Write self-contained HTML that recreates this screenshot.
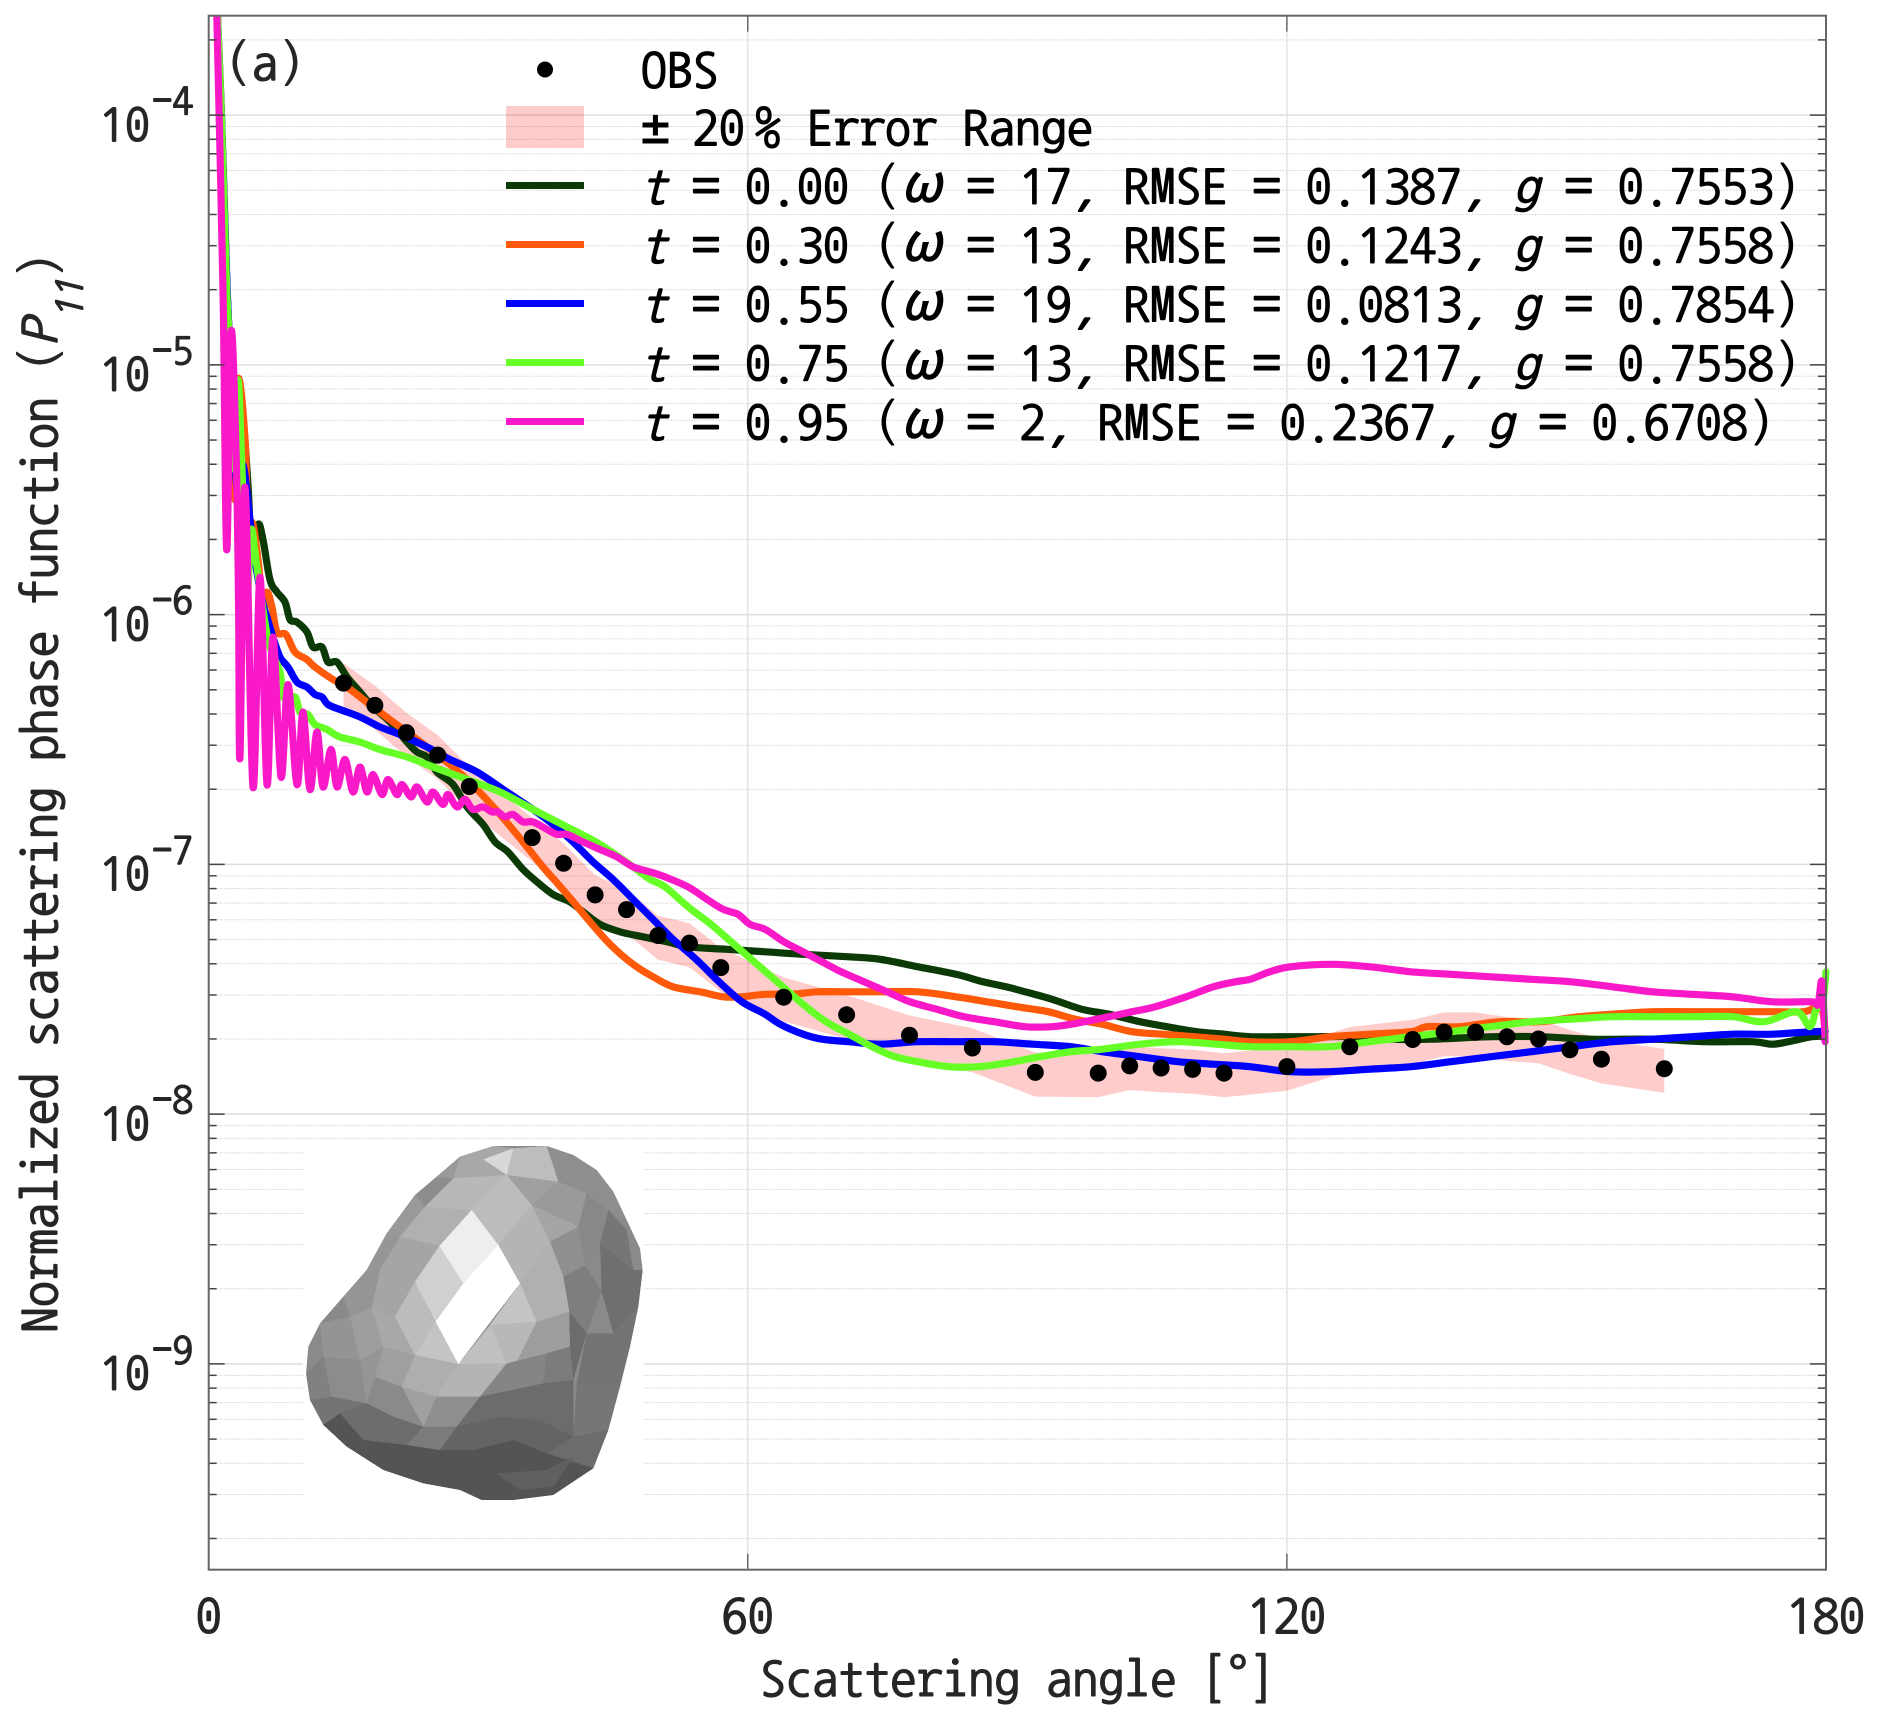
<!DOCTYPE html>
<html lang="en">
<head>
<meta charset="utf-8">
<title>Normalized scattering phase function</title>
<style>
html,body{margin:0;padding:0;background:#fff;}
svg{display:block;}
text{font-family:"NanumGothicCoding","Noto Sans Mono CJK KR","Noto Sans Mono CJK SC","DejaVu Sans Mono","Liberation Mono",monospace;fill:#262626;stroke:#262626;stroke-width:1.1;}
.it{font-style:italic;}
.lg{font-size:52px;fill:#000;stroke:#000;}
.pm{font-family:"DejaVu Sans Mono",monospace;font-size:48px;}
.nw{font-family:"Noto Sans Mono CJK KR","Noto Sans Mono CJK SC","DejaVu Sans Mono",monospace;}
</style>
</head>
<body>
<svg id="chart" xmlns="http://www.w3.org/2000/svg" width="1880" height="1722" viewBox="0 0 1880 1722">
<defs>
<clipPath id="plot-clip"><rect x="208.7" y="16" width="1621" height="1553"></rect></clipPath>
<clipPath id="asteroid-clip"><polygon points="640,78 800,78 880,105 950,150 1000,215 1040,300 1080,385 1088,450 1075,560 1050,680 1020,800 985,930 940,1045 880,1085 820,1125 700,1140 605,1140 540,1110 430,1090 310,1050 200,980 130,915 90,840 78,760 85,680 120,610 190,530 260,450 320,340 405,225 470,170 540,110"></polygon></clipPath>
</defs>
<rect width="1880" height="1722" fill="#fff"></rect>
<g id="grid-layer"></g>
<g id="band-layer" clip-path="url(#plot-clip)"></g>
<g id="curve-layer" clip-path="url(#plot-clip)"></g>
<g id="obs-layer"></g>

<g>
<rect x="303" y="1145" width="341" height="358" fill="#fff"></rect>
<g transform="translate(280,1120) scale(0.33333)">
<g clip-path="url(#asteroid-clip)">
<g shape-rendering="crispEdges">
<rect x="60" y="60" width="1050" height="1100" fill="#8a8a8a"></rect>
<polygon fill="#a8a8a8" points="640,78 700,85 610,118 540,110"></polygon>
<polygon fill="#d8d8d8" points="610,118 700,85 680,165"></polygon>
<polygon fill="#bdbdbd" points="700,85 800,78 835,185 680,165"></polygon>
<polygon fill="#a8a8a8" points="540,110 610,118 680,165 520,175"></polygon>
<polygon fill="#b8b8b8" points="520,175 680,165 575,270 435,260"></polygon>
<polygon fill="#bcbcbc" points="680,165 755,255 655,375 575,270"></polygon>
<polygon fill="#b4b4b4" points="655,375 755,255 810,365 720,490"></polygon>
<polygon fill="#a0a0a0" points="680,165 835,185 755,255"></polygon>
<polygon fill="#9a9a9a" points="835,185 920,220 895,320 755,255"></polygon>
<polygon fill="#a5a5a5" points="755,255 895,320 810,365"></polygon>
<polygon fill="#8f8f8f" points="810,365 895,320 915,435 850,470"></polygon>
<polygon fill="#b0b0b0" points="720,490 810,365 850,470 868,575 770,605"></polygon>
<polygon fill="#c4c4c4" points="720,490 770,605 630,615"></polygon>
<polygon fill="#b8b8b8" points="630,615 770,605 710,725 680,730"></polygon>
<polygon fill="#c0c0c0" points="535,732 630,615 680,730"></polygon>
<polygon fill="#9d9d9d" points="770,605 868,575 870,680 710,725"></polygon>
<polygon fill="#999999" points="405,225 435,260 360,350 320,340"></polygon>
<polygon fill="#b0b0b0" points="435,260 575,270 478,378 360,350"></polygon>
<polygon fill="#a5a5a5" points="360,350 478,378 405,485 345,590 275,565 300,450"></polygon>
<polygon fill="#d0d0d0" points="478,378 550,490 467,605 405,485"></polygon>
<polygon fill="#bcbcbc" points="405,485 467,605 405,705 345,590"></polygon>
<polygon fill="#c4c4c4" points="467,605 535,732 405,705"></polygon>
<polygon fill="#a8a8a8" points="345,590 405,705 310,680 275,565"></polygon>
<polygon fill="#9e9e9e" points="275,565 310,680 240,720 210,590"></polygon>
<polygon fill="#949494" points="210,590 240,720 130,710 120,610"></polygon>
<polygon fill="#aeaeae" points="405,705 535,732 470,830 365,800"></polygon>
<polygon fill="#b4b4b4" points="535,732 680,730 600,830 470,830"></polygon>
<polygon fill="#9f9f9f" points="310,680 405,705 365,800 285,770"></polygon>
<polygon fill="#959595" points="240,720 310,680 285,770 260,850"></polygon>
<polygon fill="#8c8c8c" points="130,710 240,720 260,850 155,830"></polygon>
<polygon fill="#818181" points="78,760 130,710 155,830 90,840"></polygon>
<polygon fill="#8a8a8a" points="285,770 365,800 430,920 340,890 260,850"></polygon>
<polygon fill="#a0a0a0" points="365,800 470,830 430,920"></polygon>
<polygon fill="#8f8f8f" points="470,830 600,830 530,920 430,920"></polygon>
<polygon fill="#858585" points="600,830 680,730 800,700 790,790"></polygon>
<polygon fill="#7c7c7c" points="800,700 870,680 880,780 790,790"></polygon>
<polygon fill="#7e7e7e" points="850,470 915,435 965,515 920,640 868,575"></polygon>
<polygon fill="#888888" points="895,320 920,220 985,270 960,370 915,435"></polygon>
<polygon fill="#8e8e8e" points="920,220 1000,215 1040,300 985,270"></polygon>
<polygon fill="#767676" points="985,270 1040,330 1060,450 960,370"></polygon>
<polygon fill="#6f6f6f" points="960,370 1060,450 1088,450 1075,560 1000,640 965,515"></polygon>
<polygon fill="#6c6c6c" points="868,575 920,640 880,780 870,680"></polygon>
<polygon fill="#747474" points="920,640 1000,640 1075,560 1050,680 1020,800 890,790"></polygon>
<polygon fill="#767676" points="890,790 1020,800 985,930 880,950"></polygon>
<polygon fill="#6c6c6c" points="880,950 985,930 940,1045 800,1000"></polygon>
<polygon fill="#6c6c6c" points="600,830 790,790 880,780 880,950 780,900 660,890 530,920"></polygon>
<polygon fill="#646464" points="530,920 660,890 780,900 880,950 800,1000 700,960 580,990 480,990"></polygon>
<polygon fill="#7b7b7b" points="430,920 530,920 480,990 380,975"></polygon>
<polygon fill="#6d6d6d" points="260,850 340,890 430,920 380,975 250,960 180,880"></polygon>
<polygon fill="#747474" points="155,830 260,850 180,880 130,915 90,840"></polygon>
<polygon fill="#545454" points="130,915 180,880 250,960 380,975 480,990 580,990 700,960 800,1000 940,1045 880,1085 820,1125 700,1140 605,1140 540,1110 430,1090 310,1050 200,980"></polygon>
<polygon fill="#606060" points="650,1060 800,1050 880,1010 820,1100 720,1110"></polygon>
<polygon fill="#8f8f8f" points="800,78 880,105 950,150 1000,215 920,220 835,185"></polygon>
<polygon fill="#8d8d8d" points="470,170 520,175 435,260 405,225"></polygon>
<polygon fill="#9a9a9a" points="540,110 520,175 470,170"></polygon>
<polygon fill="#969696" points="320,340 360,350 300,450 260,450"></polygon>
<polygon fill="#959595" points="260,450 300,450 275,565 210,590 190,530"></polygon>
<polygon fill="#8a8a8a" points="120,610 190,530 210,590"></polygon>
<polygon fill="#eeeeee" points="575,270 655,375 550,490 478,378"></polygon>
<polygon fill="#ffffff" points="655,375 720,490 535,732 467,605 550,490"></polygon>
</g>
</g>
</g>
</g>

<g id="axes-layer"></g>

<text x="226" y="78" font-size="52">(a)</text>

<g>
<g>
<circle cx="545" cy="69.5" r="8" fill="#000"></circle>
<text class="lg" x="641" y="85.5">OBS</text>
</g>
<g>
<rect x="506" y="106" width="78" height="42" fill="#ff0000" fill-opacity="0.2"></rect>
<text class="lg" x="641" y="143"><tspan class="pm">±</tspan><tspan dx="-3"> 20</tspan><tspan dx="10">%</tspan> Error Range</text>
</g>
<g>
<rect x="506" y="182" width="78" height="7" fill="#0b3a06"></rect>
<text class="lg" x="641" y="201.5"><tspan class="it">t</tspan> = 0.00 (<tspan class="it nw">ω</tspan> = 17, RMSE = 0.1387, <tspan class="it">g</tspan> = 0.7553)</text>
</g>
<g>
<rect x="506" y="241" width="78" height="7" fill="#ff5a0a"></rect>
<text class="lg" x="641" y="260.5"><tspan class="it">t</tspan> = 0.30 (<tspan class="it nw">ω</tspan> = 13, RMSE = 0.1243, <tspan class="it">g</tspan> = 0.7558)</text>
</g>
<g>
<rect x="506" y="300" width="78" height="7" fill="#0000ff"></rect>
<text class="lg" x="641" y="319.5"><tspan class="it">t</tspan> = 0.55 (<tspan class="it nw">ω</tspan> = 19, RMSE = 0.0813, <tspan class="it">g</tspan> = 0.7854)</text>
</g>
<g>
<rect x="506" y="359" width="78" height="7" fill="#66ff26"></rect>
<text class="lg" x="641" y="378.5"><tspan class="it">t</tspan> = 0.75 (<tspan class="it nw">ω</tspan> = 13, RMSE = 0.1217, <tspan class="it">g</tspan> = 0.7558)</text>
</g>
<g>
<rect x="506" y="418" width="78" height="7" fill="#fa19c8"></rect>
<text class="lg" x="641" y="437.5"><tspan class="it">t</tspan> = 0.95 (<tspan class="it nw">ω</tspan> = 2, RMSE = 0.2367, <tspan class="it">g</tspan> = 0.6708)</text>
</g>
</g>

<text x="1017" y="1694" font-size="52" text-anchor="middle">Scattering angle [<tspan class="nw">°</tspan>]</text>
<text transform="translate(55,1333) rotate(-90)" font-size="52">Normalized scattering phase function (<tspan class="it">P</tspan><tspan class="it" font-size="40" dy="26">11</tspan><tspan dy="-26">)</tspan></text>
</svg>

<script>
const xTicks = [0, 60, 120, 180];
const yDecades = [-4, -5, -6, -7, -8, -9];
const minorDecades = [-3.0, -4, -5, -6, -7, -8, -9, -10];
const minorMultiples = [2, 3, 4, 5, 6, 7, 8, 9];
const xDomain = [0, 180];
const yDomain = [1.5e-10, 2.5e-4];

const errorFraction = 0.2;
const obsAngles = [15,18.5,22,25.5,29,36,39.5,43,46.5,50,53.5,57,64,71,78,85,92,99,102.5,106,109.5,113,120,127,134,137.5,141,144.5,148,151.5,155,162];
const obsValues = [5.32e-7,4.33e-7,3.37e-7,2.74e-7,2.05e-7,1.28e-7,1.01e-7,7.55e-8,6.59e-8,5.19e-8,4.84e-8,3.86e-8,2.94e-8,2.50e-8,2.07e-8,1.84e-8,1.47e-8,1.46e-8,1.56e-8,1.53e-8,1.51e-8,1.46e-8,1.55e-8,1.86e-8,1.99e-8,2.13e-8,2.13e-8,2.04e-8,2.00e-8,1.81e-8,1.66e-8,1.52e-8];

/* Curves: log10(P11) at the listed scattering angles */
const t000Angles = [.81,1.43,2.05,2.7,3.04,3.6,4.37,4.82,5.49,6.04,6.82,7.6,8.49,9.05,9.83,10.94,11.61,12.61,13.28,14.28,15.4,16.84,18.29,20.18,22.07,23.18,24.3,25.41,27.19,28.75,30.53,31.87,33.31,34.98,36.54,38.32,40.21,41.66,43.55,45.78,48.34,51.01,53.35,57.69,61.92,66.15,71.27,74.72,78.95,83.18,86.18,88.74,90.86,93.86,97.2,100.2,103.65,106.66,110,113,115.9,120.4,123.04,127.7,131.6,136.1,142.8,148.1,153.9,160.7,166.5,171.8,174,175.8,178.4,179.8];
const t000LogP11 = [-3.46,-4,-4.7,-5.22,-5.42,-5.15,-5.48,-5.78,-5.64,-5.7,-5.86,-5.91,-5.95,-6.02,-6.03,-6.07,-6.13,-6.13,-6.19,-6.19,-6.25,-6.31,-6.37,-6.43,-6.51,-6.55,-6.57,-6.63,-6.68,-6.77,-6.84,-6.91,-6.95,-7.02,-7.07,-7.12,-7.15,-7.19,-7.24,-7.27,-7.29,-7.31,-7.33,-7.34,-7.35,-7.36,-7.37,-7.38,-7.41,-7.44,-7.47,-7.49,-7.51,-7.54,-7.58,-7.6,-7.63,-7.65,-7.67,-7.68,-7.69,-7.69,-7.69,-7.69,-7.7,-7.7,-7.69,-7.69,-7.7,-7.7,-7.71,-7.71,-7.72,-7.71,-7.69,-7.69];

const t030Angles = [.81,1.4,2,2.59,2.93,3.26,4.04,4.49,4.82,5.49,6.04,6.49,7.04,7.6,8.6,9.6,10.94,11.83,13.83,15.39,18.29,21.29,24.3,27.19,29.86,32.42,34.98,37.2,39.88,42.44,44.67,47.23,49.45,51.68,54.68,57.24,59.36,61.92,64.92,67.81,71.27,74.72,78.95,83.18,86.63,89.97,93.42,96.42,99.42,102.77,106.2,109.6,113,115.9,120.4,124.8,129.3,133.8,135.6,139.2,143.6,148.1,152.5,156.2,160.7,165.1,169.6,174,177.6,179.4,179.9];
const t030LogP11 = [-3.46,-4,-4.7,-5.14,-5.54,-5.06,-5.3,-5.78,-5.63,-5.78,-5.98,-5.91,-5.97,-6.07,-6.08,-6.15,-6.18,-6.21,-6.26,-6.29,-6.37,-6.45,-6.53,-6.61,-6.7,-6.8,-6.91,-7.01,-7.12,-7.23,-7.32,-7.4,-7.45,-7.49,-7.51,-7.53,-7.53,-7.52,-7.52,-7.51,-7.51,-7.51,-7.51,-7.53,-7.55,-7.57,-7.59,-7.62,-7.64,-7.67,-7.68,-7.69,-7.7,-7.71,-7.71,-7.69,-7.68,-7.67,-7.65,-7.65,-7.63,-7.63,-7.61,-7.6,-7.59,-7.59,-7.59,-7.59,-7.59,-7.57,-7.67];

const t055Angles = [.81,1.4,2.05,2.7,3.26,3.82,4.6,5.15,5.93,6.49,7.15,7.94,8.83,9.83,10.94,11.83,12.61,13.28,14.61,16.84,19.07,21.29,24.3,26.86,29.86,33.2,36.1,38.32,40.54,42.77,45,47.23,49.45,51.68,54.24,56.8,59.36,61.92,63.59,66.15,68.27,71.27,74.72,78.95,83.18,87.41,91.75,95.98,99.42,103.65,107.89,111.79,115.9,120.36,124.8,129.25,133.8,138.25,142.7,147.2,151.6,156.2,160.7,165.1,169.6,174,178.4,179.9];
const t055LogP11 = [-3.46,-4,-4.7,-5.22,-5.54,-5.4,-5.62,-5.78,-5.94,-6.01,-6.09,-6.17,-6.21,-6.27,-6.29,-6.32,-6.33,-6.36,-6.38,-6.41,-6.45,-6.48,-6.53,-6.58,-6.63,-6.71,-6.78,-6.84,-6.91,-6.99,-7.06,-7.14,-7.22,-7.3,-7.38,-7.47,-7.55,-7.6,-7.64,-7.68,-7.7,-7.71,-7.72,-7.71,-7.71,-7.71,-7.72,-7.73,-7.75,-7.77,-7.79,-7.8,-7.81,-7.83,-7.83,-7.82,-7.81,-7.79,-7.77,-7.75,-7.73,-7.71,-7.7,-7.69,-7.68,-7.68,-7.67,-7.67];

const t075Angles = [.81,1.4,2,2.59,2.93,3.26,3.71,4.26,4.71,5.38,6.6,7.94,8.27,9.6,10.16,11.05,11.83,13.16,14.61,16.84,19.07,22.07,24.96,28.75,32.42,36.1,39.88,43.55,47.23,49.12,50.79,53.35,55.9,58.47,61.03,63.59,66.15,68.7,71.27,73.83,76.39,78.95,82.4,85.74,89.63,92.53,95.98,99.42,103.65,107.89,112.1,115.9,120.36,124.8,129.25,133.8,138.25,142.7,147.2,151.6,156.2,160.7,165.1,169.6,173.1,176.7,178.2,178.9,179.6,180];
const t075LogP11 = [-3.46,-4,-4.7,-5.06,-5.42,-5.06,-5.42,-5.92,-5.66,-5.81,-6.1,-6.23,-6.33,-6.33,-6.39,-6.4,-6.44,-6.46,-6.49,-6.51,-6.54,-6.57,-6.61,-6.66,-6.71,-6.78,-6.85,-6.92,-7.01,-7.06,-7.09,-7.17,-7.24,-7.32,-7.4,-7.48,-7.56,-7.63,-7.68,-7.73,-7.77,-7.79,-7.81,-7.81,-7.79,-7.77,-7.75,-7.74,-7.72,-7.71,-7.72,-7.73,-7.73,-7.73,-7.71,-7.69,-7.67,-7.65,-7.63,-7.62,-7.61,-7.61,-7.61,-7.61,-7.63,-7.59,-7.65,-7.58,-7.56,-7.43];

const t095Angles = [.81,1.59,2,2.48,3.04,3.32,3.48,4.04,4.93,5.71,6.49,7.15,8.05,8.83,9.83,10.49,11.27,12.05,12.72,13.61,14.28,15.17,16.06,16.84,17.62,18.29,19.29,19.96,20.95,21.51,22.52,23.18,24.3,24.96,26.07,26.63,27.63,28.52,29.41,30.53,31.53,32.2,32.98,33.87,34.98,36.1,37.66,38.77,39.88,41.66,43.55,45.44,47.23,49.12,50.79,53.35,55.46,57.24,58.91,60.25,61.92,64.03,66.15,68.27,70.38,72.94,75.5,78.06,81.06,84.07,87.41,90.86,93.86,95.98,100.2,102.77,105.33,108.78,111.79,114.23,115.9,118.1,120.36,125,129.25,133.8,138.25,142.7,147.2,151.6,156.2,160.7,165.1,169.6,174,178.4,179.1,179.55,179.9];
const t095LogP11 = [-3.46,-4.7,-5.74,-4.87,-5.34,-5.94,-6.57,-5.49,-6.69,-5.85,-6.68,-6.09,-6.65,-6.28,-6.68,-6.39,-6.7,-6.47,-6.69,-6.54,-6.69,-6.58,-6.71,-6.61,-6.71,-6.64,-6.72,-6.66,-6.72,-6.68,-6.73,-6.69,-6.75,-6.71,-6.76,-6.72,-6.77,-6.74,-6.78,-6.77,-6.79,-6.79,-6.81,-6.8,-6.83,-6.83,-6.86,-6.88,-6.88,-6.91,-6.94,-6.97,-7.01,-7.03,-7.05,-7.09,-7.14,-7.18,-7.2,-7.24,-7.26,-7.31,-7.35,-7.39,-7.43,-7.47,-7.51,-7.55,-7.58,-7.61,-7.63,-7.65,-7.65,-7.64,-7.61,-7.59,-7.57,-7.53,-7.49,-7.47,-7.46,-7.43,-7.41,-7.4,-7.41,-7.43,-7.44,-7.45,-7.46,-7.47,-7.49,-7.51,-7.52,-7.53,-7.55,-7.55,-7.56,-7.47,-7.71];

const SVGNS = 'http://www.w3.org/2000/svg';
const plotLeft = 208.7, plotRight = 1826, plotTop = 15.7, plotBottom = 1569.7;

function xScale(angle) {
  return plotLeft + (angle - xDomain[0]) / (xDomain[1] - xDomain[0]) * (plotRight - plotLeft);
}
function yScaleLog(logValue) {
  const top = Math.log10(yDomain[1]), bottom = Math.log10(yDomain[0]);
  return plotTop + (top - logValue) / (top - bottom) * (plotBottom - plotTop);
}
function yScale(value) {
  return yScaleLog(Math.log10(value));
}
function makeEl(tag, parent) {
  const el = document.createElementNS(SVGNS, tag);
  parent.appendChild(el);
  return el;
}

const gridLayer = document.getElementById('grid-layer');
const axesLayer = document.getElementById('axes-layer');
const bandLayer = document.getElementById('band-layer');
const curveLayer = document.getElementById('curve-layer');
const obsLayer = document.getElementById('obs-layer');

function drawLine(parent, x1, y1, x2, y2, color, width, dash) {
  const el = makeEl('line', parent);
  el.setAttribute('x1', x1);
  el.setAttribute('y1', y1);
  el.setAttribute('x2', x2);
  el.setAttribute('y2', y2);
  el.setAttribute('stroke', color);
  el.setAttribute('stroke-width', width);
  if (dash) el.setAttribute('stroke-dasharray', dash);
  return el;
}

/* minor y grid and ticks */
minorDecades.forEach(function (d) {
  minorMultiples.forEach(function (m) {
    const v = m * Math.pow(10, d);
    if (v < yDomain[0] || v > yDomain[1]) return;
    const y = yScale(v);
    const g = drawLine(gridLayer, plotLeft, y, plotRight, y, '#d0d0d0', 1, '1.5 1.5');
    
    
    const tl = drawLine(axesLayer, plotLeft, y, plotLeft + 8, y, '#444', 1.5);
    
    
    const tr = drawLine(axesLayer, plotRight, y, plotRight - 8, y, '#444', 1.5);
    
    
  });
});

/* major y grid, ticks and labels */
yDecades.forEach(function (d) {
  const y = yScaleLog(d);
  const g = drawLine(gridLayer, plotLeft, y, plotRight, y, '#dedede', 1.5);
  
  
  const tl = drawLine(axesLayer, plotLeft, y, plotLeft + 16, y, '#444', 1.5);
  
  
  const tr = drawLine(axesLayer, plotRight, y, plotRight - 16, y, '#444', 1.5);
  
  
  const base = makeEl('text', axesLayer);
  base.setAttribute('x', 150);
  base.setAttribute('y', y + 23.7);
  base.setAttribute('text-anchor', 'end');
  base.setAttribute('font-size', 50);
  base.textContent = '10';
  
  
  const sup = makeEl('text', axesLayer);
  sup.setAttribute('x', 152);
  sup.setAttribute('y', y - 2);
  sup.setAttribute('font-size', 41);
  sup.textContent = String(d);
  
  
});

/* x grid, ticks and labels */
xTicks.forEach(function (t) {
  const x = xScale(t);
  if (t > xDomain[0] && t < xDomain[1]) {
    const g = drawLine(gridLayer, x, plotTop, x, plotBottom, '#dedede', 1.2);
    
    
    const tb = drawLine(axesLayer, x, plotBottom, x, plotBottom - 16, '#444', 1.2);
    
    
    const tt = drawLine(axesLayer, x, plotTop, x, plotTop + 16, '#444', 1.2);
    
    
  }
  const label = makeEl('text', axesLayer);
  label.setAttribute('x', x);
  label.setAttribute('y', 1631);
  label.setAttribute('text-anchor', 'middle');
  label.setAttribute('font-size', 52);
  label.textContent = String(t);
  
  
});

/* axis box */
const box = makeEl('rect', axesLayer);
box.setAttribute('x', plotLeft);
box.setAttribute('y', plotTop);
box.setAttribute('width', plotRight - plotLeft);
box.setAttribute('height', plotBottom - plotTop);
box.setAttribute('fill', 'none');
box.setAttribute('stroke', '#666');
box.setAttribute('stroke-width', 2);



/* error band */
let upperPts = obsAngles.map(function (a, i) {
  return xScale(a).toFixed(1) + ',' + yScale(obsValues[i] * (1 + errorFraction)).toFixed(1);
});
let lowerPts = obsAngles.map(function (a, i) {
  return xScale(a).toFixed(1) + ',' + yScale(obsValues[i] * (1 - errorFraction)).toFixed(1);
}).reverse();
const band = makeEl('polygon', bandLayer);
band.setAttribute('points', upperPts.concat(lowerPts).join(' '));
band.setAttribute('fill', '#ff0000');
band.setAttribute('fill-opacity', '0.2');



/* curves: smooth path through the read points */
function drawCurve(angles, logs, color) {
  const px = angles.map(xScale);
  const py = logs.map(yScaleLog);
  const n = px.length;
  let d = 'M' + px[0].toFixed(1) + ' ' + py[0].toFixed(1);
  for (let i = 0; i < n - 1; i++) {
    const i0 = Math.max(i - 1, 0), i3 = Math.min(i + 2, n - 1);
    const c1x = px[i] + (px[i + 1] - px[i0]) / 6;
    const c1y = py[i] + (py[i + 1] - py[i0]) / 6;
    const c2x = px[i + 1] - (px[i3] - px[i]) / 6;
    const c2y = py[i + 1] - (py[i3] - py[i]) / 6;
    d += ' C' + c1x.toFixed(1) + ' ' + c1y.toFixed(1) + ' ' + c2x.toFixed(1) + ' ' + c2y.toFixed(1) + ' ' + px[i + 1].toFixed(1) + ' ' + py[i + 1].toFixed(1);
  }
  const path = makeEl('path', curveLayer);
  path.setAttribute('d', d);
  path.setAttribute('fill', 'none');
  path.setAttribute('stroke', color);
  path.setAttribute('stroke-width', 7.2);
  path.setAttribute('stroke-linejoin', 'round');
  path.setAttribute('stroke-linecap', 'round');
  return path;
}
const curve000 = drawCurve(t000Angles, t000LogP11, '#0b3a06');


const curve030 = drawCurve(t030Angles, t030LogP11, '#ff5a0a');


const curve055 = drawCurve(t055Angles, t055LogP11, '#0000ff');


const curve075 = drawCurve(t075Angles, t075LogP11, '#66ff26');


const curve095 = drawCurve(t095Angles, t095LogP11, '#fa19c8');



/* observations */
obsAngles.forEach(function (a, i) {
  const c = makeEl('circle', obsLayer);
  c.setAttribute('cx', xScale(a).toFixed(1));
  c.setAttribute('cy', yScale(obsValues[i]).toFixed(1));
  c.setAttribute('r', 8.5);
  c.setAttribute('fill', '#000');
  
  
});
</script>
</body>
</html>
